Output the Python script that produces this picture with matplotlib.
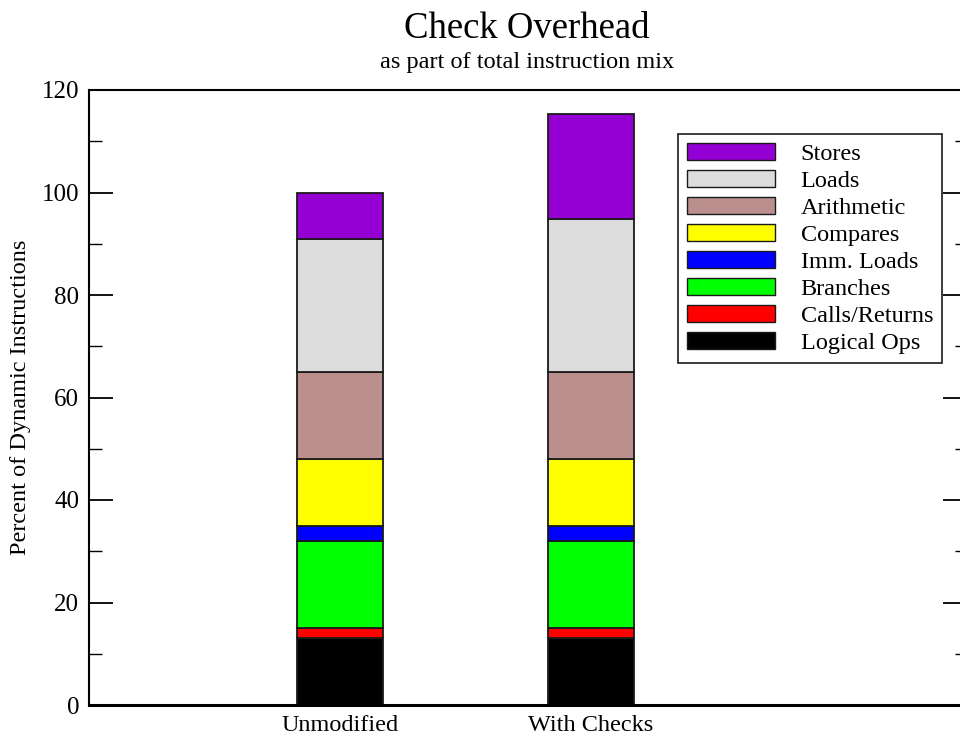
import matplotlib
matplotlib.use("Agg")
import matplotlib.pyplot as plt
from matplotlib.patches import Patch
from matplotlib.ticker import MultipleLocator

plt.rcParams['font.family'] = ['Liberation Serif', 'DejaVu Serif']

configs = ["Unmodified", "With Checks"]
categories = ["Logical Ops", "Calls/Returns", "Branches", "Imm. Loads",
              "Compares", "Arithmetic", "Loads", "Stores"]
colors = ["#000000", "#ff0000", "#00ff00", "#0000ff",
          "#ffff00", "#bc8f8f", "#dcdcdc", "#9400d3"]
unmodified = [13, 2, 17, 3, 13, 17, 26, 9]
with_checks = [13, 2, 17, 3, 13, 17, 29.8, 20.5]
values = [unmodified, with_checks]

fig = plt.figure(figsize=(9.6, 7.38), dpi=100)
ax = fig.add_axes([89 / 960, 1 - 705 / 738, (967 - 89) / 960, 615 / 738])

x = [1, 2]
bottoms = [0, 0]
for i, cat in enumerate(categories):
    h = [values[0][i], values[1][i]]
    ax.bar(x, h, width=0.343, bottom=bottoms, color=colors[i],
           edgecolor="#1a1a1a", linewidth=1.3, label=cat)
    bottoms = [bottoms[0] + h[0], bottoms[1] + h[1]]

ax.set_xlim(0, 3.5)
ax.set_ylim(0, 120)
ax.set_xticks(x)
ax.set_xticklabels(configs)
ax.yaxis.set_major_locator(MultipleLocator(20))
ax.yaxis.set_minor_locator(MultipleLocator(10))
ax.tick_params(axis="y", which="major", direction="in", length=17, width=1.3,
               right=True, labelsize=18, pad=7)
ax.tick_params(axis="y", which="minor", direction="in", length=9, width=1.0,
               right=True)
ax.tick_params(axis="x", length=0, labelsize=17.5, pad=7)
for s in ax.spines.values():
    s.set_linewidth(1.5)
ax.spines["bottom"].set_linewidth(2.2)

ax.set_ylabel("Percent of Dynamic Instructions", fontsize=17.5, labelpad=8)

fig.text(527 / 960, 1 - 38 / 738, "Check Overhead", fontsize=26.5,
         ha="center", va="baseline")
fig.text(527 / 960, 1 - 68 / 738, "as part of total instruction mix",
         fontsize=17.5, ha="center", va="baseline")

handles = [Patch(facecolor=colors[i], edgecolor="#1a1a1a", linewidth=1.0,
                 label=categories[i]) for i in range(len(categories))][::-1]
leg = fig.legend(handles=handles, loc="upper left",
                 bbox_to_anchor=(678 / 960, 1 - 134 / 738),
                 fontsize=17.5, handlelength=3.65, handleheight=0.7,
                 labelspacing=0.21, handletextpad=1.05, borderpad=0.35,
                 borderaxespad=0, fancybox=False, framealpha=1)
leg.get_frame().set_edgecolor("#1a1a1a")
leg.get_frame().set_linewidth(1.2)

fig.savefig("out.png", dpi=100)
